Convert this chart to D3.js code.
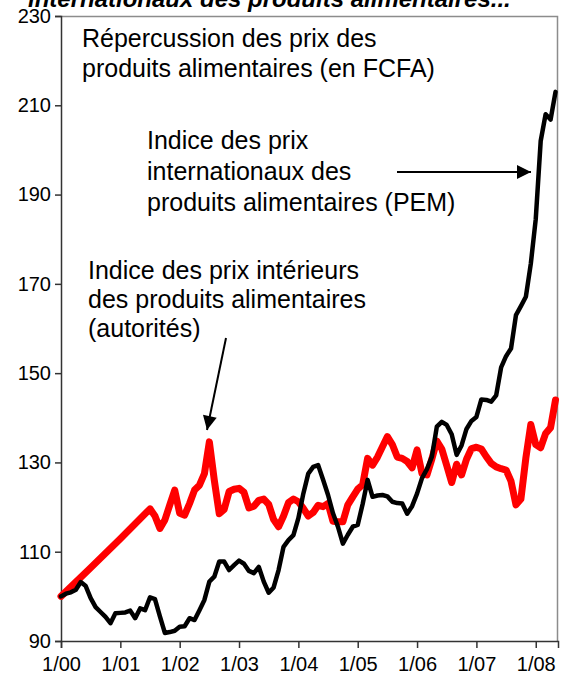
<!DOCTYPE html>
<html>
<head>
<meta charset="utf-8">
<script src="https://cdn.jsdelivr.net/npm/d3@7"></script>
<style>
  body { margin: 0; background: #fff; }
  svg { display: block; font-family: "Liberation Sans", Arial, sans-serif; }
</style>
</head>
<body>
<div id="chart"></div>
<script>
// months counted from 1/2000
var yTicks = [90, 110, 130, 150, 170, 190, 210, 230];
var xTickMonths = [0, 12, 24, 36, 48, 60, 72, 84, 96];
var xTickLabels = ["1/00", "1/01", "1/02", "1/03", "1/04", "1/05", "1/06", "1/07", "1/08"];

// Indice des prix internationaux (PEM), black
var pemMonths = d3.range(0, 101);
var pemValues = [
  100, 100.6, 100.9, 101.5, 103.2, 102.3, 99.6, 97.6, 96.5, 95.4, 94.0, 96.2,
  96.3, 96.4, 96.8, 95.1, 97.3, 96.9, 99.8, 99.4, 95.5, 91.8, 92.0, 92.3,
  93.2, 93.3, 95.1, 94.7, 96.9, 99.2, 103.3, 104.4, 107.8, 107.8, 105.9, 107,
  108, 107.3, 105.7, 105.2, 106.6, 103.3, 100.8, 102, 105.9, 111.1, 112.6, 113.7,
  117.5, 123, 127.5, 129, 129.4, 126.1, 122.7, 118.6, 115.6, 111.8, 113.8, 115.6,
  116, 120.7, 126.1, 122.3, 122.6, 122.7, 122.4, 121.2, 120.9, 120.8, 118.5, 120.2,
  123, 126.5, 128.5, 131.3, 138, 139.1, 138.4, 136.3, 131.7, 133.8, 137.5, 139.3,
  140.2, 144.1, 144, 143.6, 145, 151.3, 153.8, 155.5, 163, 165, 167.1, 174.5,
  184.5, 202, 208, 206.8, 213
];

// Indice des prix interieurs (autorites), red
var domMonths = [0, 6, 12, 18].concat(d3.range(19, 101));
var domValues = [
  100, 106.4, 112.9, 119.6,
  118, 115.2, 117.1, 120.5, 123.8,
  118.6, 118.2, 120.8, 123.8, 124.9, 127.5, 134.6, 126, 118.5, 119.5, 123.5, 124,
  124.2, 123.3, 119.8, 120.2, 121.5, 121.8, 120.6, 117.2, 115.6, 118, 121, 121.8,
  121.2, 119.7, 118, 118.8, 120.4, 120.1, 120.8, 116.8, 116.7, 116.7, 120.5, 122.3,
  124, 125, 130.9, 129.4, 131.2, 133.5, 135.8, 134, 131.2, 130.9, 130.2, 128.8,
  132.8, 127.5, 127.2, 130.8, 134.8, 133, 129.3, 125.5, 129.6, 127.2, 130.7, 133.1,
  133.4, 133, 131.3, 129.8, 129, 128.6, 128.3, 125.8, 120.5, 121.8, 131, 138.5,
  134, 133.3, 136.5, 137.8, 144
];

var titleText = "internationaux des produits alimentaires...";
var note1 = ["Répercussion des prix des", "produits alimentaires (en FCFA)"];
var note2 = ["Indice des prix", "internationaux des", "produits alimentaires (PEM)"];
var note3 = ["Indice des prix intérieurs", "des produits alimentaires", "(autorités)"];

var W = 562, H = 684;
var margin = {top: 16, right: 4, bottom: 43, left: 61};
var width = W - margin.left - margin.right;
var height = H - margin.top - margin.bottom;

var svg = d3.select("#chart").append("svg")
    .attr("width", W)
    .attr("height", H);

// title, cut off at the very top like the source
svg.append("text")
    .attr("x", 28)
    .attr("y", 7)
    .style("font-size", "24px")
    .style("font-weight", "bold")
    .style("font-style", "italic")
    .text(titleText);

var g = svg.append("g")
    .attr("transform", "translate(" + margin.left + "," + margin.top + ")");

var x = d3.scaleLinear().domain([0, 100.5]).range([0, width]);
var y = d3.scaleLinear().domain([90, 230]).range([height, 0]);

// frame top + right
g.append("path")
    .attr("d", "M0,0.5H" + (width - 0.5) + "V" + height)
    .attr("fill", "none")
    .attr("stroke", "#8c8c8c")
    .attr("stroke-width", 1.5);

var yAxis = d3.axisLeft(y).tickValues(yTicks).tickSize(6).tickPadding(4);
var xAxis = d3.axisBottom(x).tickValues(xTickMonths).tickSize(7).tickPadding(9)
    .tickFormat(function (d, i) { return xTickLabels[i]; });

g.append("g").attr("class", "axis").call(yAxis);
g.append("g").attr("class", "axis")
    .attr("transform", "translate(0," + height + ")")
    .call(xAxis);

g.selectAll(".axis path, .axis line").attr("stroke", "#333").attr("stroke-width", 1.5);
g.selectAll(".axis text")
    .attr("fill", "#000")
    .style("font-size", "20px")
    .style("font-family", "'Liberation Sans', Arial, sans-serif");

var line = d3.line()
    .x(function (d) { return x(d[0]); })
    .y(function (d) { return y(d[1]); });

g.append("path")
    .datum(d3.zip(domMonths, domValues))
    .attr("d", line)
    .attr("fill", "none")
    .attr("stroke", "#ff0000")
    .attr("stroke-width", 7)
    .attr("stroke-linejoin", "round")
    .attr("stroke-linecap", "round");

g.append("path")
    .datum(d3.zip(pemMonths, pemValues))
    .attr("d", line)
    .attr("fill", "none")
    .attr("stroke", "#000")
    .attr("stroke-width", 4.5)
    .attr("stroke-linejoin", "round")
    .attr("stroke-linecap", "round");

// annotations
function note(lines, x0, y0, step) {
  var t = svg.append("text").style("font-size", "25px").attr("fill", "#000");
  lines.forEach(function (s, i) {
    t.append("tspan").attr("x", x0).attr("y", y0 + i * step).text(s);
  });
}
note(note1, 82, 47, 30);
note(note2, 147, 149, 31);
note(note3, 88, 279, 29);

svg.append("defs").append("marker")
    .attr("id", "arrow")
    .attr("viewBox", "0 0 10 10")
    .attr("refX", 10).attr("refY", 5)
    .attr("markerWidth", 15).attr("markerHeight", 14)
    .attr("markerUnits", "userSpaceOnUse")
    .attr("orient", "auto")
    .append("path").attr("d", "M0,0L10,5L0,10z").attr("fill", "#000");

svg.append("line")
    .attr("x1", 397).attr("y1", 172).attr("x2", 531).attr("y2", 172)
    .attr("stroke", "#000").attr("stroke-width", 2)
    .attr("marker-end", "url(#arrow)");

svg.append("line")
    .attr("x1", 226).attr("y1", 338).attr("x2", 207).attr("y2", 430)
    .attr("stroke", "#000").attr("stroke-width", 2)
    .attr("marker-end", "url(#arrow)");
</script>
</body>
</html>
